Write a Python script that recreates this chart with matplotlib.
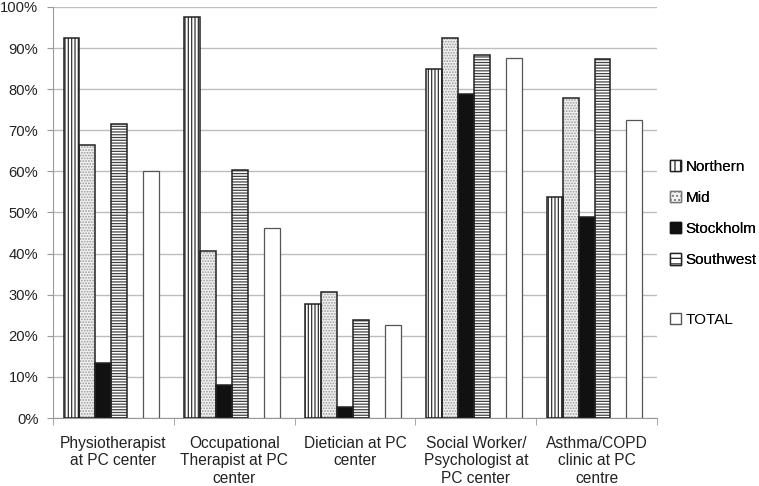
import matplotlib
matplotlib.use("Agg")
import matplotlib.pyplot as plt
import numpy as np
from matplotlib.patches import Patch

plt.rcParams['font.family'] = ['Liberation Sans', 'DejaVu Sans']
plt.rcParams['hatch.linewidth'] = 0.9

categories = ["Physiotherapist\nat PC center", "Occupational\nTherapist at PC\ncenter",
              "Dietician at PC\ncenter", "Social Worker/\nPsychologist at\nPC center",
              "Asthma/COPD\nclinic at PC\ncentre"]
northern = [92.5, 97.6, 27.7, 85.0, 53.8]
mid = [66.5, 40.7, 30.6, 92.4, 77.9]
stockholm = [13.3, 8.0, 2.7, 78.8, 48.9]
southwest = [71.6, 60.4, 23.8, 88.2, 87.4]
total = [60.1, 46.2, 22.7, 87.5, 72.4]
yticks = [0, 10, 20, 30, 40, 50, 60, 70, 80, 90, 100]

fig = plt.figure(figsize=(7.59, 4.86), dpi=100)
ax = fig.add_axes([53/759, 1-418/486, (657-53)/759, (418-7)/486])

x = np.arange(len(categories))
w = 0.132
offs = [-0.347 + i*w for i in range(6)]

styles = [
    (northern, "Northern", dict(facecolor='white', hatch='|||||', edgecolor='#333333')),
    (mid, "Mid", dict(facecolor='#f2f2f2', hatch='......', edgecolor='#9a9a9a')),
    (stockholm, "Stockholm", dict(facecolor='#111111', hatch=None, edgecolor='#111111')),
    (southwest, "Southwest", dict(facecolor='white', hatch='------', edgecolor='#444444')),
]
for i, (vals, lab, st) in enumerate(styles):
    ax.bar(x + offs[i], vals, w, linewidth=0, zorder=2, **st)
    ax.bar(x + offs[i], vals, w, fill=False, edgecolor='#222222', linewidth=1.1, zorder=3)
ax.bar(x + offs[5], total, w, facecolor='white', edgecolor='#555555', linewidth=0.9, zorder=3)

ax.set_xlim(-0.5, 4.5)
ax.set_ylim(0, 100)
ax.set_yticks(yticks)
ax.set_yticklabels([f"{v}%" for v in yticks], fontsize=10.6, color='#222222')
ax.yaxis.grid(True, color='#bdbdbd', linewidth=1.0, zorder=0)
ax.set_axisbelow(True)
ax.set_xticks(x)
ax.set_xticklabels(categories, fontsize=11.2, color='#222222', linespacing=1.2)
ax.tick_params(axis='x', length=0, pad=13)
ax.set_xticks(np.arange(-0.5, 4.6, 1), minor=True)
ax.tick_params(axis='x', which='minor', length=5, color='#999999', direction='out')
ax.tick_params(axis='y', length=4.5, color='#999999', direction='out', pad=6)
for s in ['top', 'right']:
    ax.spines[s].set_visible(False)
for s in ['left', 'bottom']:
    ax.spines[s].set_color('#999999')

handles = [Patch(facecolor='white', hatch='|||', edgecolor='#222222'),
           Patch(facecolor='#f2f2f2', hatch='....', edgecolor='#777777'),
           Patch(facecolor='#111111', edgecolor='#111111'),
           Patch(facecolor='white', hatch='---', edgecolor='#222222')]
leg1 = fig.legend(handles, ["Northern", "Mid", "Stockholm", "Southwest"], loc='upper left',
                  bbox_to_anchor=(670/759, 1-160/486), frameon=False, fontsize=11,
                  handlelength=0.75, handleheight=0.75, handletextpad=0.25, labelspacing=1.12,
                  borderaxespad=0, borderpad=0)
leg2 = fig.legend([Patch(facecolor='white', edgecolor='#555555')], ["TOTAL"], loc='upper left',
                  bbox_to_anchor=(670/759, 1-313/486), frameon=False, fontsize=11,
                  handlelength=0.75, handleheight=0.75, handletextpad=0.25, borderaxespad=0,
                  borderpad=0)
fig.add_artist(leg1)

fig.savefig("out.png", dpi=100)
